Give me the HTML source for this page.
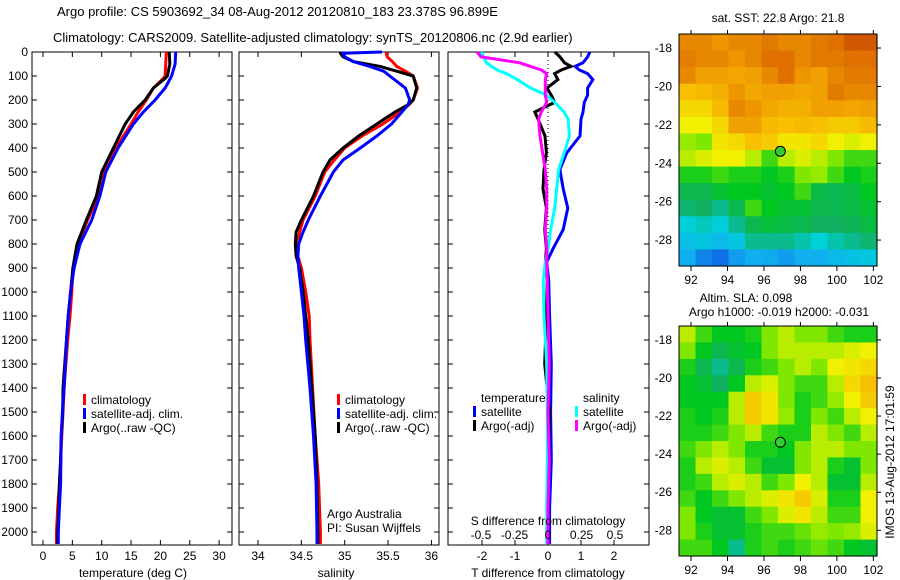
<!DOCTYPE html>
<html><head><meta charset="utf-8">
<style>
html,body{margin:0;padding:0;background:#fff;}
svg{display:block;font-family:"Liberation Sans",sans-serif;}
text{font-size:12px;fill:#000;}
</style></head>
<body>
<svg id="chart" width="900" height="580" viewBox="0 0 900 580">
<text x="57" y="16" style="font-size:13px">Argo profile: CS 5903692_34 08-Aug-2012 20120810_183 23.378S 96.899E</text>
<text x="53" y="42" style="font-size:13px">Climatology: CARS2009. Satellite-adjusted climatology: synTS_20120806.nc (2.9d earlier)</text>
</svg>
<script>
// ---- data ----
const tDepth = [0,50,100,110,150,200,250,300,400,500,600,700,800,900,1000,1100,1200,1400,1500,1600,1700,1800,1900,2000,2050];
const tArgo = [21.5,21.6,21.2,20.8,18.8,17.4,15.4,14.0,12.0,10.0,9.1,7.4,5.8,5.1,4.7,4.3,4.0,3.4,3.35,3.1,3.0,2.8,2.7,2.5,2.5];
const tClim = [21.0,20.9,20.8,20.5,18.8,17.6,16.2,15.0,12.4,10.4,9.4,7.6,6.0,5.1,4.9,4.6,4.2,3.6,3.4,3.2,3.0,2.8,2.5,2.3,2.3];
const tSat  = [22.6,22.5,21.9,21.7,20.8,19.1,17.1,15.4,12.8,10.7,9.7,8.3,6.3,5.3,4.7,4.3,4.0,3.6,3.3,3.1,3.05,3.0,2.8,2.6,2.6];
const sDepth = [0,5,20,40,60,80,100,150,200,220,250,300,350,400,450,500,600,700,750,800,850,900,1000,1100,1200,1400,1600,1800,2000,2050];
const sArgo = [34.95,34.95,34.98,35.1,35.41,35.6,35.79,35.83,35.79,35.73,35.58,35.37,35.16,34.98,34.83,34.75,34.64,34.50,34.44,34.43,34.44,34.48,34.52,34.55,34.58,34.62,34.66,34.68,34.69,34.69];
const sClim = [35.48,35.48,35.49,35.55,35.6,35.7,35.79,35.84,35.79,35.74,35.64,35.44,35.2,35.0,34.88,34.77,34.66,34.52,34.48,34.45,34.46,34.5,34.55,34.59,34.6,34.63,34.66,34.7,34.72,34.72];
const sSat  = [35.43,34.98,35.0,35.1,35.29,35.45,35.52,35.7,35.75,35.73,35.66,35.54,35.37,35.18,34.98,34.87,34.72,34.58,34.52,34.47,34.46,34.47,34.5,34.53,34.55,34.6,34.64,34.67,34.68,34.68];
const dDepth = [0,20,45,60,75,90,115,150,180,210,250,280,350,420,490,570,650,740,820,875,950,1100,1300,1500,1700,1900,2050];
const dTsat = [1.27,1.2,1.06,0.82,0.95,1.2,1.36,1.2,1.2,1.1,1.06,1.0,0.97,0.57,0.36,0.46,0.6,0.46,0.15,-0.04,0.02,0.05,0.1,0.08,0.1,0.05,0.05];
const dTargo = [0.21,0.36,0.5,0.7,0.4,0.2,0.3,-0.03,0.1,0.2,-0.4,-0.3,-0.09,-0.05,-0.12,-0.15,-0.05,-0.1,-0.05,-0.08,-0.02,-0.05,-0.1,0.05,0.02,-0.02,0.0];
const dSsat = [-0.5,-0.48,-0.46,-0.42,-0.38,-0.31,-0.23,-0.13,-0.01,0.05,0.12,0.15,0.16,0.12,0.08,0.065,0.05,0.02,0.0,-0.02,-0.035,-0.03,-0.01,-0.005,-0.005,-0.01,-0.01];
const dSargo = [-0.53,-0.5,-0.21,-0.13,-0.05,-0.01,-0.02,-0.02,-0.02,-0.01,-0.05,-0.07,-0.06,-0.04,-0.02,-0.01,-0.01,-0.02,-0.01,-0.01,-0.005,0.0,0.01,0.0,0.01,0.0,0.0];
const depthTicks = [0,100,200,300,400,500,600,700,800,900,1000,1100,1200,1300,1400,1500,1600,1700,1800,1900,2000];
const tTicks = [0,5,10,15,20,25,30];
const sTicks = [34,34.5,35,35.5,36];
const sTickLabels = ["34","34.5","35","35.5","36"];
const dTTicks = [-2,-1,0,1,2];
const dSTicks = [-0.5,-0.25,0,0.25,0.5];
const dSTickLabels = ["-0.5","-0.25","0","0.25","0.5"];
const lonTicks = [92,94,96,98,100,102];
const latTicks = [-18,-20,-22,-24,-26,-28];
const argoLon = 96.899, argoLat = -23.378;
const sstGrid = [
[0.85,0.85,0.82,0.85,0.85,0.88,0.85,0.85,0.88,0.9,0.95,0.95],
[0.87,0.85,0.85,0.82,0.85,0.9,0.9,0.85,0.88,0.88,0.9,0.9],
[0.85,0.8,0.8,0.78,0.8,0.85,0.9,0.82,0.8,0.85,0.88,0.88],
[0.7,0.72,0.75,0.82,0.78,0.8,0.8,0.78,0.8,0.88,0.85,0.85],
[0.65,0.65,0.72,0.85,0.82,0.78,0.75,0.75,0.8,0.8,0.78,0.8],
[0.6,0.6,0.65,0.8,0.8,0.72,0.7,0.72,0.7,0.68,0.68,0.72],
[0.52,0.5,0.62,0.65,0.7,0.68,0.62,0.62,0.65,0.6,0.58,0.6],
[0.55,0.58,0.6,0.6,0.55,0.45,0.55,0.58,0.55,0.5,0.45,0.45],
[0.42,0.42,0.45,0.42,0.42,0.4,0.42,0.5,0.52,0.45,0.4,0.42],
[0.35,0.35,0.38,0.4,0.4,0.38,0.4,0.45,0.36,0.35,0.36,0.4],
[0.32,0.33,0.3,0.35,0.45,0.4,0.38,0.38,0.35,0.35,0.36,0.38],
[0.25,0.27,0.24,0.3,0.35,0.37,0.36,0.35,0.33,0.33,0.34,0.36],
[0.2,0.22,0.18,0.22,0.3,0.3,0.3,0.28,0.25,0.28,0.3,0.32],
[0.15,0.08,0.05,0.12,0.15,0.14,0.12,0.15,0.15,0.18,0.2,0.22]];
const slaGrid = [
[0.55,0.45,0.4,0.4,0.42,0.5,0.55,0.5,0.5,0.45,0.42,0.42],
[0.5,0.4,0.35,0.38,0.4,0.5,0.55,0.55,0.55,0.55,0.58,0.6],
[0.42,0.35,0.3,0.35,0.42,0.45,0.5,0.55,0.5,0.6,0.62,0.65],
[0.4,0.38,0.33,0.4,0.55,0.58,0.5,0.45,0.45,0.55,0.65,0.7],
[0.4,0.4,0.4,0.55,0.68,0.62,0.5,0.42,0.45,0.52,0.6,0.68],
[0.42,0.4,0.42,0.55,0.68,0.62,0.52,0.42,0.5,0.45,0.55,0.6],
[0.42,0.42,0.45,0.5,0.55,0.45,0.42,0.42,0.55,0.5,0.45,0.55],
[0.45,0.5,0.55,0.5,0.42,0.42,0.4,0.5,0.55,0.55,0.5,0.5],
[0.42,0.55,0.58,0.55,0.45,0.38,0.38,0.5,0.55,0.42,0.38,0.5],
[0.42,0.45,0.55,0.58,0.55,0.45,0.5,0.6,0.55,0.38,0.38,0.55],
[0.45,0.4,0.45,0.5,0.55,0.58,0.62,0.68,0.58,0.42,0.42,0.6],
[0.5,0.4,0.38,0.38,0.45,0.5,0.58,0.62,0.55,0.45,0.45,0.6],
[0.5,0.42,0.38,0.38,0.42,0.45,0.45,0.48,0.52,0.5,0.52,0.58],
[0.45,0.45,0.4,0.3,0.42,0.45,0.42,0.45,0.48,0.45,0.4,0.38]];

// ---- helpers ----
const NS="http://www.w3.org/2000/svg";
const svg=document.getElementById('chart');
function mk(tag,attrs,parent){const e=document.createElementNS(NS,tag);for(const k in attrs)e.setAttribute(k,attrs[k]);(parent||svg).appendChild(e);return e;}
function txt(x,y,s,anchor,size,parent){const t=mk('text',{x:x,y:y,'text-anchor':anchor||'start'},parent);if(size)t.style.fontSize=size+'px';t.textContent=s;return t;}
const yTop=52, yBot=545;
const yD=d=>yTop+d*0.24;
const xT=v=>43+v*5.87;
const xS=v=>258+(v-34)*86.7;
const xDT=v=>548+v*33;
const xDS=v=>548+v*134;

function panel(x0,x1,name){
  const g=mk('g',{});
  
  
  mk('rect',{x:x0,y:yTop,width:x1-x0,height:yBot-yTop,fill:'none',stroke:'#000','stroke-width':1},g);
  depthTicks.forEach(d=>{
    mk('line',{x1:x0,x2:x0+5,y1:yD(d),y2:yD(d),stroke:'#000'},g);
    mk('line',{x1:x1-5,x2:x1,y1:yD(d),y2:yD(d),stroke:'#000'},g);
  });
  return g;
}
function xticks(g,vals,fx,labels,ly){
  vals.forEach((v,i)=>{
    const x=fx(v);
    mk('line',{x1:x,x2:x,y1:yBot,y2:yBot-5,stroke:'#000'},g);
    mk('line',{x1:x,x2:x,y1:yTop,y2:yTop+5,stroke:'#000'},g);
    if(labels){const t=txt(x,ly,labels[i],'middle',null,g);
      
      }
  });
}
function line(g,xs,ds,fx,color,name,w){
  const pts=xs.map((v,i)=>fx(v).toFixed(1)+','+yD(ds[i]).toFixed(1)).join(' ');
  const p=mk('polyline',{points:pts,fill:'none',stroke:color,'stroke-width':w||3,'stroke-linejoin':'miter'},g);
  
  
}
function legend(g,x,y,color,label){
  const r=mk('rect',{x:x,y:y-10,width:3,height:11,fill:color},g);
  
  
  const t=txt(x+8,y,label,'start',null,g);
  
  
}

// Panel 1: temperature
const p1=panel(32,232,'temperature-panel');
depthTicks.forEach(d=>{const t=txt(28,yD(d)+4,String(d),'end',null,p1);
  
  });
xticks(p1,tTicks,xT,tTicks.map(String),560);
line(p1,tClim,tDepth,xT,'#ff0000','temp-climatology-line');
line(p1,tArgo,tDepth,xT,'#000000','temp-argo-line');
line(p1,tSat,tDepth,xT,'#0000ff','temp-satellite-line');
legend(p1,83,404,'#ff0000','climatology');
legend(p1,83,418,'#0000ff','satellite-adj. clim.');
legend(p1,83,432,'#000000','Argo(..raw -QC)');
const xl1=txt(133,577,'temperature (deg C)','middle',null,p1);



// Panel 2: salinity
const p2=panel(239,439,'salinity-panel');
xticks(p2,sTicks,xS,sTickLabels,560);
line(p2,sClim,sDepth,xS,'#ff0000','sal-climatology-line');
line(p2,sArgo,sDepth,xS,'#000000','sal-argo-line');
line(p2,sSat,sDepth,xS,'#0000ff','sal-satellite-line');
legend(p2,337,404,'#ff0000','climatology');
legend(p2,337,418,'#0000ff','satellite-adj. clim.');
legend(p2,337,432,'#000000','Argo(..raw -QC)');
const ar1=txt(327,518,'Argo Australia','start',null,p2);


const ar2=txt(327,532,'PI: Susan Wijffels','start',null,p2);


const xl2=txt(336,577,'salinity','middle',null,p2);



// Panel 3: differences
const p3=panel(448,649,'difference-panel');
xticks(p3,dTTicks,xDT,dTTicks.map(String),560);
mk('line',{x1:548,x2:548,y1:yTop,y2:yBot,stroke:'#000','stroke-dasharray':'1,3'},p3);
line(p3,dTsat,dDepth,xDT,'#0000ff','tdiff-satellite-line');
line(p3,dTargo,dDepth,xDT,'#000000','tdiff-argo-line');
line(p3,dSsat,dDepth,xDS,'#00ffff','sdiff-satellite-line');
line(p3,dSargo,dDepth,xDS,'#ff00ff','sdiff-argo-line');
txt(481,402,'temperature','start',null,p3);
txt(583,402,'salinity','start',null,p3);
legend(p3,473,416,'#0000ff','satellite');
legend(p3,473,430,'#000000','Argo(-adj)');
legend(p3,575,416,'#00ffff','satellite');
legend(p3,575,430,'#ff00ff','Argo(-adj)');
const sdl=txt(548,525,'S difference from climatology','middle',null,p3);


dSTicks.forEach((v,i)=>{const t=txt(xDS(v),539,dSTickLabels[i],'middle',null,p3);
  
  });
const tdl=txt(548,577,'T difference from climatology','middle',null,p3);



// ---- maps ----
const stops=[[0,[16,80,224]],[0.15,[16,176,240]],[0.25,[0,208,216]],[0.33,[16,176,96]],[0.4,[0,200,32]],[0.5,[128,232,0]],[0.6,[240,240,0]],[0.7,[248,192,0]],[0.8,[240,160,0]],[0.9,[224,112,0]],[1,[192,64,0]]];
function cmap(v){
  for(let i=1;i<stops.length;i++){if(v<=stops[i][0]){const a=stops[i-1],b=stops[i],f=(v-a[0])/(b[0]-a[0]);
    const c=a[1].map((x,k)=>Math.round(x+(b[1][k]-x)*f));return 'rgb('+c.join(',')+')';}}
  return 'rgb(192,64,0)';
}
const lonMin=91.34, lonMax=102.2, latMax=-17.27, latMin=-29.35;
function drawMap(grid,top,bottom,name){
  const g=mk('g',{});
  
  
  const x0=679,x1=877;
  const xL=lon=>x0+(lon-lonMin)/(lonMax-lonMin)*(x1-x0);
  const yL=lat=>top+(latMax-lat)/(latMax-latMin)*(bottom-top);
  const rows=grid.length, cols=grid[0].length;
  const cw=(x1-x0)/cols, ch=(bottom-top)/rows;
  grid.forEach((row,r)=>row.forEach((v,c)=>{
    const cell=mk('rect',{x:(x0+c*cw).toFixed(2),y:(top+r*ch).toFixed(2),width:(cw+0.6).toFixed(2),height:(ch+0.6).toFixed(2),fill:cmap(v)},g);
    
    
  }));
  mk('rect',{x:x0,y:top,width:x1-x0,height:bottom-top,fill:'none',stroke:'#000'},g);
  lonTicks.forEach(l=>{const x=xL(l);
    mk('line',{x1:x,x2:x,y1:bottom,y2:bottom+5,stroke:'#000'},g);
    mk('line',{x1:x,x2:x,y1:top,y2:top-4,stroke:'#000'},g);
    const t=txt(x,bottom+18,String(l),'middle',null,g);
    
    });
  latTicks.forEach(l=>{const y=yL(l);
    mk('line',{x1:x1,x2:x1+4,y1:y,y2:y,stroke:'#000'},g);
    const t=txt(672,y+4,String(l),'end',null,g);
    
    });
  const dot=mk('circle',{cx:xL(argoLon),cy:yL(argoLat),r:5,fill:'#33cc33',stroke:'#000'},g);
  
  
}
drawMap(sstGrid,34,266,'sst-map');
drawMap(slaGrid,326,556,'sla-map');
const m1=txt(778,22,'sat. SST: 22.8 Argo: 21.8','middle');


const m2=txt(746,302,'Altim. SLA: 0.098','middle');


const m3=txt(779,316,'Argo h1000: -0.019 h2000: -0.031','middle');


const imos=txt(0,0,'IMOS 13-Aug-2012 17:01:59','middle');
imos.setAttribute('transform','translate(894,462) rotate(-90)');


</script>
</body></html>
